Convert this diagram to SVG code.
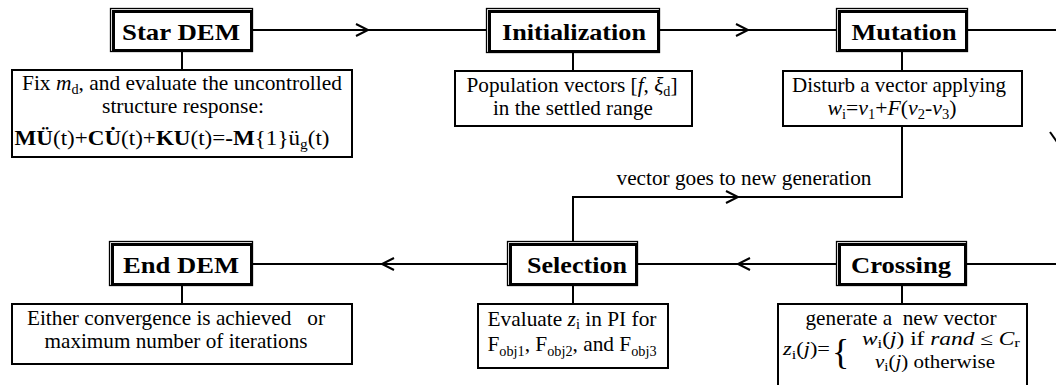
<svg xmlns="http://www.w3.org/2000/svg" width="1056" height="385" viewBox="0 0 1056 385">
<style>
.title { font-weight: bold; font-size: 24px; text-anchor: middle; }
.d { font-size: 21px; text-anchor: middle; }
.f { font-size: 18px; }
.s { font-size: 14px; }
.s2 { font-size: 13px; }
.i { font-style: italic; }
.b { font-weight: bold; }
.box { fill: #fff; stroke: #000; stroke-width: 2; }
.thin { fill: #fff; stroke: #000; stroke-width: 1.3; }
.thick { fill: none; stroke: #000; stroke-width: 3; }
.c { fill: none; stroke: #000; stroke-width: 2; }
</style>
<defs>
<marker id="chev" markerUnits="userSpaceOnUse" markerWidth="16" markerHeight="16" refX="13" refY="7" orient="auto" overflow="visible">
<path d="M1,1 L13,7 L1,13" fill="none" stroke="#000" stroke-width="2"/>
</marker>
</defs>
<rect width="1056" height="385" fill="#fff"/>
<g font-family="Liberation Serif, DejaVu Serif, Noto Serif, FreeSerif, Times New Roman, serif" fill="#000">
<g id="connectors">
<path class="c" d="M253,30 H368" marker-end="url(#chev)"/>
<path class="c" d="M368,30 H486"/>
<path class="c" d="M660,30 H748" marker-end="url(#chev)"/>
<path class="c" d="M748,30 H836"/>
<path class="c" d="M968,30 H1056"/>
<path class="c" d="M1050,132 L1057,142"/>
<path class="c" d="M967,264 H1056"/>
<path class="c" d="M836,264 H738" marker-end="url(#chev)"/>
<path class="c" d="M738,264 H638"/>
<path class="c" d="M507,264 H382" marker-end="url(#chev)"/>
<path class="c" d="M382,264 H253"/>
<path class="c" d="M573,241 V197 H738" marker-end="url(#chev)"/>
<path class="c" d="M738,197 H902 V126"/>
<path class="c" d="M182,52 V70"/>
<path class="c" d="M573,53 V71"/>
<path class="c" d="M902,52 V71"/>
<path class="c" d="M182,286 V304"/>
<path class="c" d="M573,286 V304"/>
<path class="c" d="M902,286 V304"/>
<text class="d" x="744" y="185" textLength="255" lengthAdjust="spacingAndGlyphs">vector goes to new generation</text>
</g>

<g id="star-dem">
<rect class="thin" x="110.5" y="8.5" width="142" height="43"/>
<rect class="thick" x="113.5" y="11.5" width="138" height="39"/>
<text class="title" x="181" y="40" textLength="118" lengthAdjust="spacingAndGlyphs">Star DEM</text>
</g>
<g id="star-desc">
<rect class="box" x="12" y="70" width="340" height="87"/>
<text class="d" x="182" y="90" textLength="320" lengthAdjust="spacingAndGlyphs">Fix <tspan class="i">m</tspan><tspan class="s" dy="4">d</tspan><tspan dy="-4">, and evaluate the uncontrolled</tspan></text>
<text class="d" x="183" y="113" textLength="162" lengthAdjust="spacingAndGlyphs">structure response:</text>
<text class="d" x="172" y="145" textLength="315" lengthAdjust="spacingAndGlyphs"><tspan class="b">MÜ</tspan>(t)+<tspan class="b">CU&#775;</tspan>(t)+<tspan class="b">KU</tspan>(t)=<tspan class="b">-M</tspan>{1}ü<tspan class="s" dy="4">g</tspan><tspan dy="-4">(t)</tspan></text>
</g>

<g id="initialization">
<rect class="thin" x="486.5" y="8.5" width="173" height="44"/>
<rect class="thick" x="489.5" y="11.5" width="169" height="40"/>
<text class="title" x="574" y="40" textLength="144" lengthAdjust="spacingAndGlyphs">Initialization</text>
</g>
<g id="init-desc">
<rect class="box" x="455" y="71" width="237" height="55"/>
<text class="d" x="572" y="92" textLength="211" lengthAdjust="spacingAndGlyphs">Population vectors [<tspan class="i">f</tspan>, <tspan class="i">ξ</tspan><tspan class="s" dy="4">d</tspan><tspan dy="-4">]</tspan></text>
<text class="d" x="573" y="115" textLength="160" lengthAdjust="spacingAndGlyphs">in the settled range</text>
</g>

<g id="mutation">
<rect class="thin" x="836.5" y="8.5" width="131" height="43"/>
<rect class="thick" x="839.5" y="11.5" width="127" height="39"/>
<text class="title" x="904" y="40" textLength="105" lengthAdjust="spacingAndGlyphs">Mutation</text>
</g>
<g id="mutation-desc">
<rect class="box" x="783" y="71" width="239" height="55"/>
<text class="d" x="899" y="92" textLength="214" lengthAdjust="spacingAndGlyphs">Disturb a vector applying</text>
<text class="d" x="892" y="115" textLength="129" lengthAdjust="spacingAndGlyphs"><tspan class="i">w</tspan><tspan class="s" dy="4">i</tspan><tspan dy="-4">=</tspan><tspan class="i">v</tspan><tspan class="s" dy="4">1</tspan><tspan dy="-4">+</tspan><tspan class="i">F</tspan>(<tspan class="i">v</tspan><tspan class="s" dy="4">2</tspan><tspan dy="-4">-</tspan><tspan class="i">v</tspan><tspan class="s" dy="4">3</tspan><tspan dy="-4">)</tspan></text>
</g>

<g id="end-dem">
<rect class="thin" x="109.5" y="241.5" width="143" height="44"/>
<rect class="thick" x="112.5" y="244.5" width="139" height="40"/>
<text class="title" x="181" y="273" textLength="116" lengthAdjust="spacingAndGlyphs">End DEM</text>
</g>
<g id="end-desc">
<rect class="box" x="12" y="304" width="340" height="60"/>
<text class="d" x="176" y="325" style="white-space:pre" textLength="298" lengthAdjust="spacingAndGlyphs">Either convergence is achieved   or</text>
<text class="d" x="176" y="348" textLength="263" lengthAdjust="spacingAndGlyphs">maximum number of iterations</text>
</g>

<g id="selection">
<rect class="thin" x="507.5" y="241.5" width="130" height="44"/>
<rect class="thick" x="510.5" y="244.5" width="126" height="40"/>
<text class="title" x="577" y="273" textLength="100" lengthAdjust="spacingAndGlyphs">Selection</text>
</g>
<g id="selection-desc">
<rect class="box" x="478" y="304" width="190" height="64"/>
<text class="d" x="572" y="326" textLength="169" lengthAdjust="spacingAndGlyphs">Evaluate <tspan class="i">z</tspan><tspan class="s" dy="3">i</tspan><tspan dy="-3"> in PI for</tspan></text>
<text class="d" x="572" y="351" textLength="169" lengthAdjust="spacingAndGlyphs">F<tspan class="s" dy="5">obj1</tspan><tspan dy="-5">, F</tspan><tspan class="s" dy="5">obj2</tspan><tspan dy="-5">, and F</tspan><tspan class="s" dy="5">obj3</tspan></text>
</g>

<g id="crossing">
<rect class="thin" x="836.5" y="241.5" width="130" height="44"/>
<rect class="thick" x="839.5" y="244.5" width="126" height="40"/>
<text class="title" x="901" y="273" textLength="100" lengthAdjust="spacingAndGlyphs">Crossing</text>
</g>
<g id="crossing-desc">
<rect class="box" x="778" y="304" width="249" height="90"/>
<text class="d" x="901" y="325" style="white-space:pre" textLength="191" lengthAdjust="spacingAndGlyphs">generate a  new vector</text>
<text class="f" x="783" y="355" textLength="47" lengthAdjust="spacingAndGlyphs"><tspan class="i">z</tspan><tspan class="s2" dy="4">i</tspan><tspan dy="-4">(</tspan><tspan class="i">j</tspan>)=</text>
<text x="832" y="364" font-size="36">{</text>
<text class="f" x="862" y="345" textLength="158" lengthAdjust="spacingAndGlyphs"><tspan class="i">w</tspan><tspan class="s2" dy="3">i</tspan><tspan dy="-3">(</tspan><tspan class="i">j</tspan>) if <tspan class="i">rand</tspan> ≤ <tspan class="i">C</tspan><tspan class="s2" dy="2">r</tspan></text>
<text class="f" x="875" y="368" textLength="120" lengthAdjust="spacingAndGlyphs"><tspan class="i">v</tspan><tspan class="s2" dy="3">i</tspan><tspan dy="-3">(</tspan><tspan class="i">j</tspan>) otherwise</text>
</g>
</g>
</svg>
